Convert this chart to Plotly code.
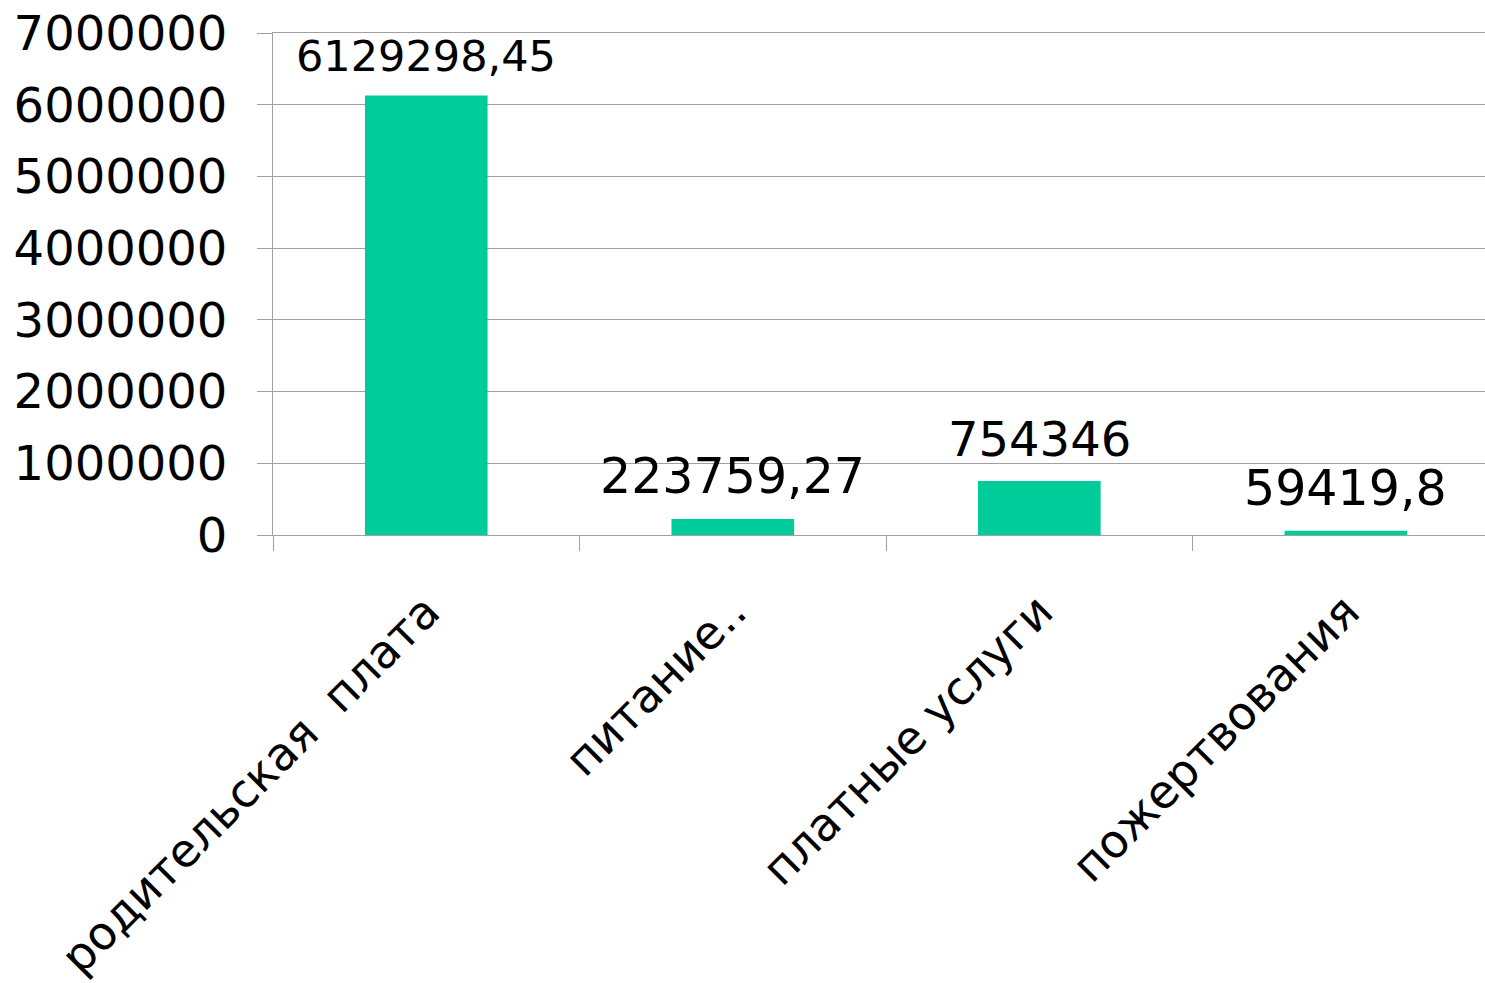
import plotly.graph_objects as go

categories = ["родительская  плата", "питание..", "платные услуги", "пожертвования"]
values = [6129298.45, 223759.27, 754346, 59419.8]
value_labels = ["6129298,45", "223759,27", "754346", "59419,8"]
label_sizes = [43, 49, 48, 49]
y_ticks = [0, 1000000, 2000000, 3000000, 4000000, 5000000, 6000000, 7000000]

FONT = "DejaVu Sans"
GRID = "#A0A0A0"

fig = go.Figure()
fig.add_trace(go.Bar(
    x=categories, y=values, width=0.4,
    marker=dict(color="#00CC99", line=dict(width=0)),
    showlegend=False,
))

for c, v, t, s in zip(categories, values, value_labels, label_sizes):
    fig.add_annotation(x=c, y=v, text=t, showarrow=False, xanchor="center",
                       yanchor="bottom", yshift=12,
                       font=dict(family=FONT, size=s, color="#000000"))

fig.update_layout(
    width=1485, height=983,
    margin=dict(l=273, r=0, t=33, b=448, pad=0),
    paper_bgcolor="white", plot_bgcolor="white",
    font=dict(family=FONT, color="#000000"),
    bargap=0.6,
)
fig.update_xaxes(
    type="category",
    range=[-0.5, 3.454],
    showgrid=False,
    showline=True, linecolor=GRID, linewidth=1, mirror=True,
    ticks="outside", tickson="boundaries", ticklen=15, tickcolor=GRID, tickwidth=1,
    tickangle=-45,
    ticklabelstandoff=30,
    tickfont=dict(family=FONT, size=46, color="#000000"),
)
fig.update_yaxes(
    range=[0, 7000000],
    tickvals=y_ticks, ticktext=[str(v) for v in y_ticks],
    showgrid=True, gridcolor=GRID, gridwidth=1,
    showline=True, linecolor=GRID, linewidth=1,
    ticks="outside", ticklen=15, tickcolor=GRID, tickwidth=1,
    ticklabelstandoff=20,
    zeroline=False,
    tickfont=dict(family=FONT, size=48, color="#000000"),
)

fig.write_html("out.html")
